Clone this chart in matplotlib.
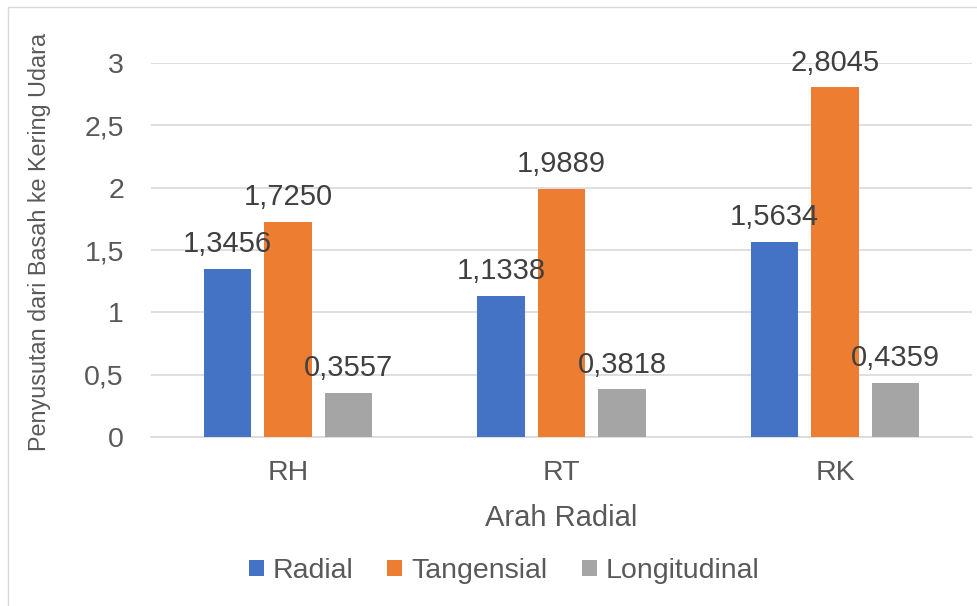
import matplotlib
matplotlib.use("Agg")
import matplotlib.pyplot as plt
import numpy as np
from matplotlib.patches import Rectangle

categories = ["RH", "RT", "RK"]
series_names = ["Radial", "Tangensial", "Longitudinal"]
radial = [1.3456, 1.1338, 1.5634]
tangensial = [1.7250, 1.9889, 2.8045]
longitudinal = [0.3557, 0.3818, 0.4359]
yticks = [0, 0.5, 1, 1.5, 2, 2.5, 3]
ytick_labels = ["0", "0,5", "1", "1,5", "2", "2,5", "3"]
colors = ["#4472C4", "#ED7D31", "#A5A5A5"]

plt.rcParams['font.family'] = ['Liberation Sans', 'DejaVu Sans']

fig = plt.figure(figsize=(9.78, 6.06), dpi=100)
fig.patches.append(Rectangle((8/978, -0.1), 1.2, 1 - 7/606 + 0.1, transform=fig.transFigure,
                             fill=False, edgecolor="#d9d9d9", linewidth=1.0))
ax = fig.add_axes([151/978, 1 - 437/606, 821/978, 374/606])

x = np.arange(len(categories))
off = 0.221
w = 0.174
for i, (vals, name) in enumerate(zip([radial, tangensial, longitudinal], series_names)):
    pos = x + (i - 1) * off
    ax.bar(pos, vals, width=w, color=colors[i], label=name, zorder=3)
    for p, v in zip(pos, vals):
        ax.text(p, v + 0.135, f"{v:.4f}".replace(".", ","), ha="center", va="baseline",
                fontsize=21, color="#404040", zorder=4)

ax.set_xlim(-0.5, 2.5)
ax.set_ylim(0, 3)
ax.set_yticks(yticks)
ax.set_yticklabels(ytick_labels)
ax.set_xticks(x)
ax.set_xticklabels(categories)
ax.tick_params(axis="both", length=0, labelsize=20.5, colors="#595959")
ax.tick_params(axis="y", pad=19.5)
ax.tick_params(axis="x", pad=16.5)
ax.grid(axis="y", color="#d9d9d9", linewidth=1.2, zorder=0)
for s in ["top", "right", "left"]:
    ax.spines[s].set_visible(False)
ax.spines["bottom"].set_color("#d9d9d9")
ax.spines["bottom"].set_linewidth(1.2)

fig.text(561/978, 1 - 526/606, "Arah Radial", ha="center", va="baseline",
         fontsize=21, color="#595959")
fig.text(40/978, 1 - 242/606, "Penyusutan dari Basah ke Kering Udara", rotation=90,
         ha="center", va="center", fontsize=16.8, color="#595959")

leg = fig.legend(loc="center", bbox_to_anchor=(504/978, 1 - 571/606), ncol=3, frameon=False,
                 fontsize=20.5, handlelength=0.53, handleheight=0.53, handletextpad=0.32,
                 columnspacing=1.19, borderaxespad=0, borderpad=0)
for t in leg.get_texts():
    t.set_color("#595959")

fig.savefig("out.png", dpi=100)
